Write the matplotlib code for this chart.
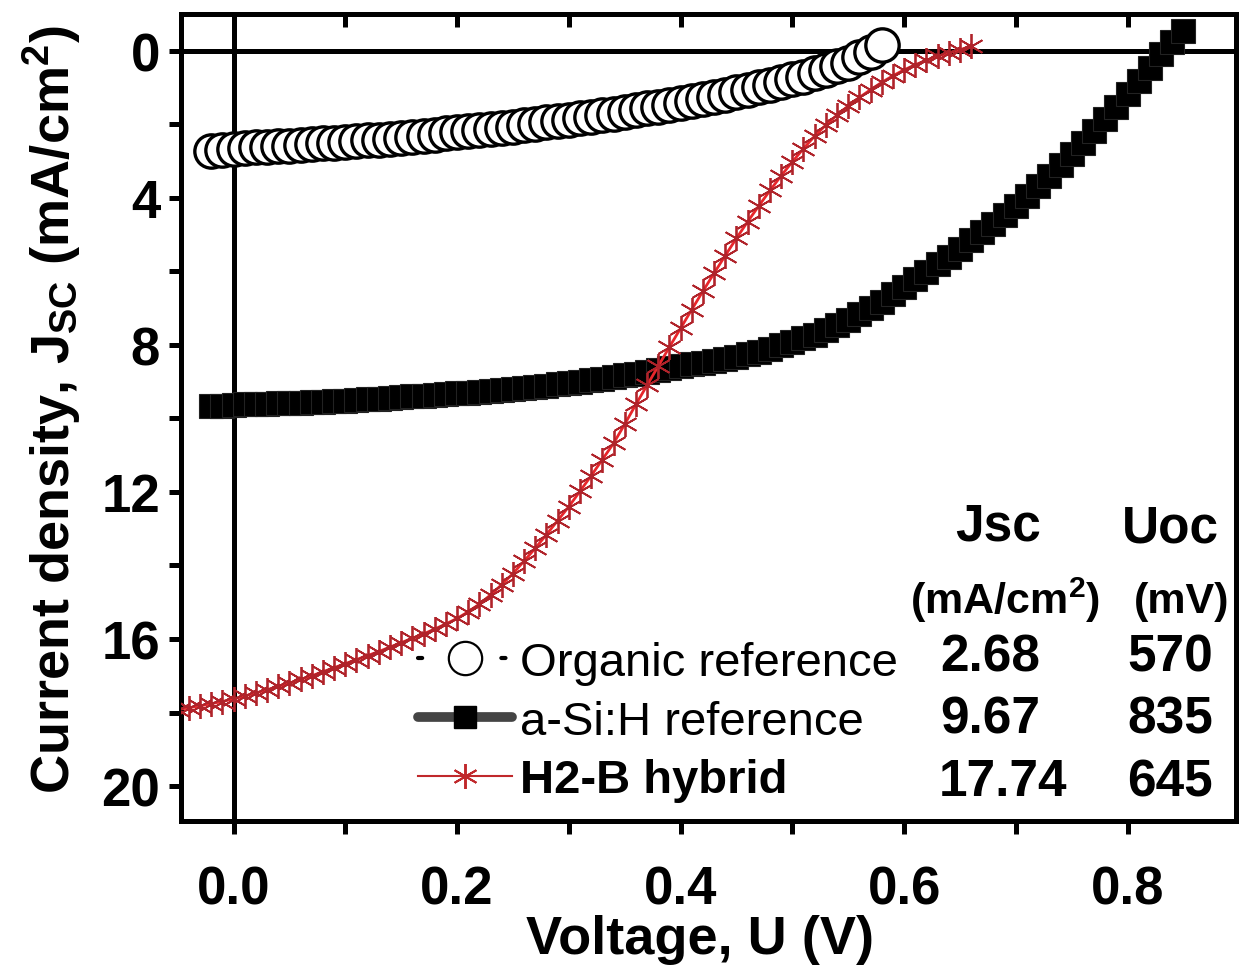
import matplotlib
matplotlib.use("Agg")
import matplotlib.pyplot as plt
from matplotlib.lines import Line2D

plt.rcParams["font.family"] = ["Liberation Sans", "DejaVu Sans"]
plt.rcParams["mathtext.fontset"] = "custom"
plt.rcParams["mathtext.rm"] = "Liberation Sans:bold"
plt.rcParams["mathtext.it"] = "Liberation Sans:bold"
plt.rcParams["mathtext.bf"] = "Liberation Sans:bold"

# organic reference (V, mA/cm2)
org_v = [-0.02, -0.01, 0.00, 0.01, 0.02, 0.03, 0.04, 0.05, 0.06, 0.07, 0.08, 0.09,
         0.10, 0.11, 0.12, 0.13, 0.14, 0.15, 0.16, 0.17, 0.18, 0.19, 0.20, 0.21,
         0.22, 0.23, 0.24, 0.25, 0.26, 0.27, 0.28, 0.29, 0.30, 0.31, 0.32, 0.33,
         0.34, 0.35, 0.36, 0.37, 0.38, 0.39, 0.40, 0.41, 0.42, 0.43, 0.44, 0.45,
         0.46, 0.47, 0.48, 0.49, 0.50, 0.51, 0.52, 0.53, 0.54, 0.55, 0.56, 0.57, 0.58]
org_j = [2.72, 2.69, 2.66, 2.65, 2.63, 2.61, 2.60, 2.58, 2.56, 2.54, 2.52, 2.50,
         2.48, 2.46, 2.44, 2.42, 2.39, 2.37, 2.34, 2.31, 2.28, 2.25, 2.22, 2.19,
         2.16, 2.13, 2.10, 2.06, 2.03, 1.99, 1.95, 1.91, 1.87, 1.83, 1.79, 1.75,
         1.71, 1.67, 1.62, 1.57, 1.52, 1.47, 1.42, 1.36, 1.30, 1.25, 1.19, 1.12,
         1.06, 0.99, 0.92, 0.85, 0.78, 0.70, 0.61, 0.52, 0.42, 0.32, 0.18, 0.02, -0.15]

# a-Si:H reference
asi_v = [-0.02, -0.01, 0.00, 0.01, 0.02, 0.03, 0.04, 0.05, 0.06, 0.07, 0.08, 0.09,
         0.10, 0.11, 0.12, 0.13, 0.14, 0.15, 0.16, 0.17, 0.18, 0.19, 0.20, 0.21,
         0.22, 0.23, 0.24, 0.25, 0.26, 0.27, 0.28, 0.29, 0.30, 0.31, 0.32, 0.33,
         0.34, 0.35, 0.36, 0.37, 0.38, 0.39, 0.40, 0.41, 0.42, 0.43, 0.44, 0.45,
         0.46, 0.47, 0.48, 0.49, 0.50, 0.51, 0.52, 0.53, 0.54, 0.55, 0.56, 0.57,
         0.58, 0.59, 0.60, 0.61, 0.62, 0.63, 0.64, 0.65, 0.66, 0.67, 0.68, 0.69,
         0.70, 0.71, 0.72, 0.73, 0.74, 0.75, 0.76, 0.77, 0.78, 0.79, 0.80, 0.81,
         0.82, 0.83, 0.84, 0.85]
asi_j = [9.67, 9.65, 9.63, 9.62, 9.61, 9.60, 9.59, 9.58, 9.57, 9.56, 9.55, 9.53,
         9.52, 9.50, 9.48, 9.46, 9.44, 9.42, 9.40, 9.38, 9.36, 9.34, 9.32, 9.30,
         9.28, 9.25, 9.23, 9.20, 9.17, 9.14, 9.11, 9.07, 9.04, 9.00, 8.96, 8.92,
         8.88, 8.83, 8.78, 8.73, 8.68, 8.63, 8.58, 8.53, 8.48, 8.43, 8.38, 8.32,
         8.25, 8.18, 8.10, 8.01, 7.92, 7.82, 7.72, 7.60, 7.46, 7.32, 7.17, 7.00,
         6.82, 6.62, 6.42, 6.22, 6.02, 5.81, 5.60, 5.38, 5.16, 4.94, 4.72, 4.48,
         4.22, 3.95, 3.68, 3.40, 3.10, 2.80, 2.50, 2.19, 1.86, 1.53, 1.18, 0.82,
         0.46, 0.10, -0.25, -0.55]

# H2-B hybrid
hyb_v = [-0.05, -0.04, -0.03, -0.02, -0.01, 0.00, 0.01, 0.02, 0.03, 0.04, 0.05,
         0.06, 0.07, 0.08, 0.09, 0.10, 0.11, 0.12, 0.13, 0.14, 0.15, 0.16, 0.17,
         0.18, 0.19, 0.20, 0.21, 0.22, 0.23, 0.24, 0.25, 0.26, 0.27, 0.28, 0.29,
         0.30, 0.31, 0.32, 0.33, 0.34, 0.35, 0.36, 0.37, 0.38, 0.39, 0.40, 0.41,
         0.42, 0.43, 0.44, 0.45, 0.46, 0.47, 0.48, 0.49, 0.50, 0.51, 0.52, 0.53,
         0.54, 0.55, 0.56, 0.57, 0.58, 0.59, 0.60, 0.61, 0.62, 0.63, 0.64, 0.65, 0.66]
hyb_j = [17.92, 17.87, 17.82, 17.76, 17.70, 17.63, 17.55, 17.47, 17.38, 17.29, 17.20,
         17.10, 17.00, 16.89, 16.78, 16.67, 16.56, 16.45, 16.34, 16.22, 16.10, 15.98,
         15.86, 15.73, 15.59, 15.44, 15.26, 15.05, 14.80, 14.52, 14.22, 13.88, 13.53,
         13.16, 12.78, 12.40, 11.98, 11.56, 11.12, 10.68, 10.16, 9.62, 9.10, 8.58,
         8.06, 7.55, 7.04, 6.54, 6.05, 5.57, 5.10, 4.65, 4.22, 3.80, 3.40, 3.02,
         2.66, 2.32, 2.02, 1.75, 1.50, 1.27, 1.06, 0.86, 0.68, 0.52, 0.38, 0.26,
         0.15, 0.06, -0.03, -0.12]

labels = ["Organic reference", "a-Si:H reference", "H2-B hybrid"]
jsc_vals = ["2.68", "9.67", "17.74"]
uoc_vals = ["570", "835", "645"]

W, H = 1240, 970
fig = plt.figure(figsize=(12.4, 9.7), dpi=100)
ax = fig.add_axes([181 / W, 1 - 822 / H, (1236 - 181) / W, (822 - 15) / H])

ax.axhline(0, color="black", lw=3.6, zorder=1)
ax.axvline(0, color="black", lw=3.6, zorder=1)

ax.plot(org_v, org_j, color="black", lw=3, ls=(0, (1, 19)), dash_capstyle="round",
        marker="o", ms=24, mfc="white", mec="black", mew=2.4, zorder=3)
ax.plot(asi_v, asi_j, color="#444444", lw=7, solid_capstyle="round",
        marker="s", ms=17, mfc="black", mec="#222222", mew=0.8, zorder=4)
ax.plot(hyb_v, hyb_j, color="#e8262b", lw=2,
        marker=(6, 2, 0), ms=18, mec="#b0232a", mew=1.3, zorder=5)

ax.set_xlim(-0.047, 0.897)
ax.set_ylim(20.95, -1.0)
ax.set_xticks([0.0, 0.2, 0.4, 0.6, 0.8])
ax.set_xticks([0.1, 0.3, 0.5, 0.7], minor=True)
ax.set_yticks([0, 4, 8, 12, 16, 20])
ax.set_yticks([2, 6, 10, 14, 18], minor=True)
ax.set_xticklabels(["0.0", "0.2", "0.4", "0.6", "0.8"])

for s in ax.spines.values():
    s.set_linewidth(3.6)
ax.tick_params(which="both", direction="out", width=3.6, length=9, labelsize=38,
               top=False, right=False)
ax.tick_params(axis="x", pad=22)
ax.tick_params(axis="y", pad=6)
for t in ax.get_xticklabels() + ax.get_yticklabels():
    t.set_fontweight("bold")

top = ax.secondary_xaxis("top")
top.set_xticks([0.0, 0.2, 0.4, 0.6, 0.8])
top.set_xticks([0.1, 0.3, 0.5, 0.7], minor=True)
top.tick_params(which="both", direction="in", width=3.6, length=9, labeltop=False)

fig.text(700 / W, 1 - 940 / H, "Voltage, U (V)", fontsize=39, fontweight="bold",
         ha="center", va="center")
fig.text(52 / W, 1 - 410 / H, r"Current density, J$_{SC}$ (mA/cm$^{2}$)", fontsize=39,
         fontweight="bold", rotation=90, ha="center", va="center")

handles = [
    Line2D([], [], color="black", lw=3, ls=(0, (1, 19)), dash_capstyle="round",
           marker="o", ms=24, mfc="white", mec="black", mew=1.6),
    Line2D([], [], color="#444444", lw=7, solid_capstyle="round",
           marker="s", ms=16, mfc="black", mec="black"),
    Line2D([], [], color="#c0282b", lw=1.5, marker=(6, 2, 0), ms=18,
           mec="#c0282b", mew=1.4),
]
leg = fig.legend(handles, labels, loc="upper left", bbox_to_anchor=(418 / W, 1 - 642 / H),
                 frameon=False, fontsize=34, handlelength=2.0, handletextpad=0.15,
                 labelspacing=0.31, borderpad=0, borderaxespad=0)
leg.get_texts()[2].set_fontweight("bold")

fig.text(998 / W, 1 - 527 / H, "Jsc", fontsize=37, fontweight="bold", ha="center", va="center")
fig.text(1170 / W, 1 - 529 / H, "Uoc", fontsize=37, fontweight="bold", ha="center", va="center")
fig.text(1005 / W, 1 - 600 / H, r"(mA/cm$^{2}$)", fontsize=31, fontweight="bold",
         ha="center", va="center")
fig.text(1182 / W, 1 - 602 / H, "(mV)", fontsize=31, fontweight="bold", ha="center", va="center")
for k, y in enumerate([658, 720, 783]):
    fig.text(990 / W if k < 2 else 1003 / W, 1 - y / H, jsc_vals[k], fontsize=37,
             fontweight="bold", ha="center", va="center")
    fig.text(1170 / W, 1 - y / H, uoc_vals[k], fontsize=37, fontweight="bold",
             ha="center", va="center")

fig.savefig("out.png", dpi=100)
